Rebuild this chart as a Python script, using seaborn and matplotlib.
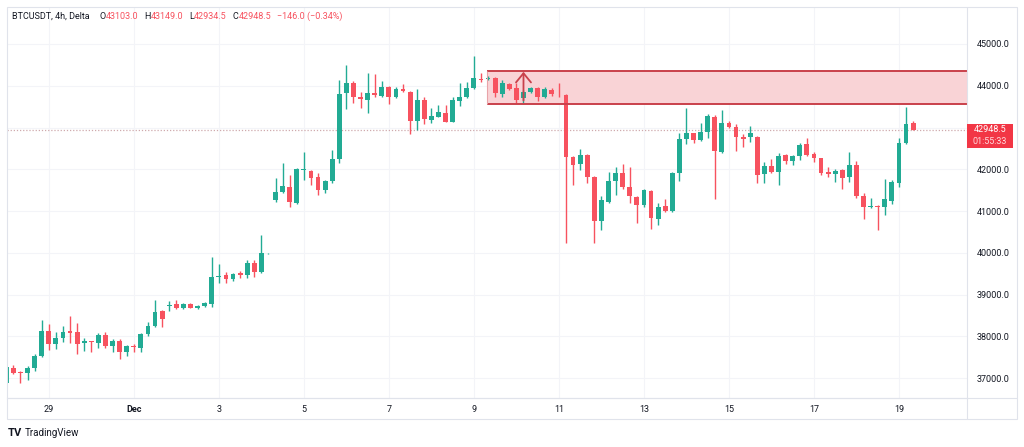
import numpy as np
import pandas as pd
import matplotlib
matplotlib.use("Agg")
import matplotlib.pyplot as plt
import seaborn as sns
from matplotlib.patches import Rectangle
from matplotlib.lines import Line2D

# 4h candles, 28 Nov 00:00 -> 19 Dec 08:00
opens = [36874, 37248, 37152, 37113, 37233, 37521, 38127, 37815, 37952, 38117,
         38096, 37832, 37880, 37846, 38031, 37778, 37887, 37616, 37767, 37727,
         38047, 38246, 38606, 38726, 38774, 38670, 38766, 38670, 38734, 38774,
         39427, 39459, 39372, 39508, 39467, 39762, 39547, 39987, 41264, 41448,
         41583, 41200, 41983, 41959, 41807, 41504, 41719, 42239, 43819, 44073,
         43738, 43659, 43834, 43755, 43978, 43738, 43915, 43858, 43156, 43659,
         43180, 43259, 43355, 43140, 43642, 43724, 43939, 44169, 44162, 44194,
         43803, 44035, 43939, 43700, 43858, 43939, 43738, 43898, 43780, 43780,
         42301, 42126, 42342, 41807, 40768, 41224, 41726, 41918, 41583, 41343,
         41144, 41487, 40802, 41120, 41008, 41918, 42718, 42861, 42701, 42900,
         43245, 42421, 43116, 43005, 42780, 42780, 42780, 41887, 42078, 41927,
         42342, 42198, 42318, 42605, 42358, 42262, 41942, 41879, 41983, 41823,
         42102, 41360, 41088, 41120, 41088, 41248, 41679, 42637, 43103]
highs = [37288, 37312, 37176, 37288, 37576, 38390, 38287, 38096, 38246, 38493,
         38311, 37952, 37887, 38071, 38096, 37928, 37928, 37791, 37815, 38071,
         38349, 38869, 38630, 38853, 38869, 38790, 38806, 38758, 38822, 39906,
         39731, 39547, 39523, 39555, 39827, 39827, 40426, 39995, 41784, 42143,
         41863, 42023, 42413, 41983, 41903, 41743, 42461, 44138, 44497, 44121,
         43843, 44298, 44274, 44121, 43990, 43963, 44042, 43870, 43915, 43724,
         43460, 43539, 43539, 43724, 44059, 44097, 44713, 44298, 44240, 44202,
         44138, 44066, 44059, 43900, 43977, 43977, 43963, 43939, 44059, 43800,
         42310, 42478, 42366, 41839, 41360, 41942, 42047, 42126, 42062, 41360,
         41520, 41504, 41185, 41280, 41942, 42861, 43460, 42877, 43100, 43324,
         43300, 43420, 43164, 43084, 42845, 43036, 42796, 42182, 42239, 42382,
         42358, 42342, 42622, 42741, 42421, 42270, 42047, 41998, 41998, 42421,
         42206, 41440, 41304, 41144, 41760, 41743, 42741, 43484, 43149]
lows = [36857, 37097, 36888, 36953, 37176, 37497, 37671, 37688, 37870, 37832,
        37576, 37655, 37631, 37712, 37712, 37631, 37449, 37527, 37631, 37631,
        38007, 38230, 38230, 38613, 38646, 38646, 38670, 38646, 38710, 38710,
        39284, 39284, 39332, 39403, 39388, 39427, 39523, 39980, 41224, 41424,
        41104, 41168, 41743, 41623, 41384, 41440, 41679, 42143, 43436, 43594,
        43460, 43355, 43738, 43724, 43563, 43700, 43858, 42837, 42940, 43084,
        43116, 43245, 43124, 43124, 43515, 43700, 43915, 44097, 44145, 43724,
        43738, 43898, 43580, 43580, 43834, 43642, 43700, 43755, 43738, 40227,
        41623, 41983, 41679, 40242, 40545, 41200, 41384, 41520, 41185, 40706,
        41104, 40562, 40665, 40984, 40984, 41726, 42605, 42622, 42685, 42741,
        41280, 42397, 42980, 42445, 42540, 42660, 41663, 41679, 41903, 41623,
        42126, 42102, 42222, 42326, 42182, 41863, 41823, 41703, 41520, 41703,
        41304, 40802, 41064, 40545, 40904, 41168, 41583, 42597, 42934.5]
closes = [37257, 37128, 37128, 37248, 37521, 38127, 37815, 37952, 38096, 38084,
          37815, 37880, 37856, 38031, 37778, 37887, 37616, 37767, 37736, 38047,
          38246, 38582, 38407, 38747, 38670, 38774, 38686, 38734, 38798, 39427,
          39435, 39372, 39483, 39475, 39762, 39531, 39987, 39990, 41448, 41599,
          41224, 41999, 41991, 41798, 41504, 41719, 42246, 43796, 44059, 43724,
          43676, 43819, 43771, 43978, 43724, 43915, 43875, 43156, 43659, 43197,
          43276, 43364, 43140, 43659, 43738, 43939, 44178, 44145, 44186, 43819,
          44059, 43922, 43659, 43858, 43939, 43724, 43915, 43795, 43772, 42301,
          42102, 42342, 41807, 40768, 41264, 41726, 41903, 41583, 41360, 41144,
          41504, 40826, 41104, 41008, 41918, 42718, 42861, 42701, 42900, 43276,
          42445, 43100, 43005, 42780, 42718, 42861, 41863, 42078, 41927, 42318,
          42198, 42318, 42581, 42342, 42262, 41918, 41879, 41958, 41798, 42102,
          41360, 41088, 41120, 41104, 41280, 41703, 42637, 43084, 42948.5]

date_ticks = [6, 18, 30, 42, 54, 66, 78, 90, 102, 114, 126]
date_labels = ["29", "Dec", "3", "5", "7", "9", "11", "13", "15", "17", "19"]
price_ticks = [37000, 38000, 39000, 40000, 41000, 42000, 43000, 44000, 45000]

zone_start = 67.9
zone_low, zone_high = 43556, 44361
arrow_x, arrow_from, arrow_to = 73, 43580, 44400
last_price = 42948.5
countdown = "01:55:33"

UP = "#22ab94"
DOWN = "#f7525f"
GRID = "#f3f4f8"
FRAME = "#e0e3eb"
TXT = "#131722"

df = pd.DataFrame({"open": opens, "high": highs, "low": lows, "close": closes})
df["idx"] = np.arange(len(df))
df["color"] = np.where(df["close"] >= df["open"], UP, DOWN)
df["bottom"] = df[["open", "close"]].min(axis=1)
df["body"] = np.maximum((df["close"] - df["open"]).abs(), 14)

sns.set_theme(style="white")
plt.rcParams["font.family"] = ["Roboto", "DejaVu Sans"]

W, H = 1024, 447
fig = plt.figure(figsize=(W / 100, H / 100), dpi=100)
ax = fig.add_axes([7 / W, 1 - 398 / H, 960 / W, 391 / H])

ax.vlines(df["idx"], df["low"], df["high"], colors=df["color"], linewidth=1, zorder=3)
ax.bar(df["idx"], df["body"], bottom=df["bottom"], width=0.68, color=df["color"],
       linewidth=0, zorder=4)

ax.set_xlim(0.1, 135.6)
ax.set_ylim(36522, 45886)

# resistance zone
ax.fill_between([zone_start, 140], zone_low, zone_high, color="#f9d3d6", zorder=1, linewidth=0)
ax.hlines([zone_low, zone_high], zone_start, 140, colors="#c9414b", linewidth=1.4, zorder=5)
ax.vlines(zone_start, zone_low, zone_high, colors="#e8a4a9", linewidth=0.8, zorder=5)
ax.annotate("", xy=(arrow_x, arrow_to), xytext=(arrow_x, arrow_from),
            arrowprops=dict(arrowstyle="->,head_length=0.55,head_width=0.45",
                            color="#c9414b", lw=1.3), zorder=6)

ax.axhline(last_price, color="#cfa9ac", linestyle=(0, (1, 1.5)), linewidth=0.9, zorder=2)

ax.set_xticks(date_ticks)
ax.set_xticklabels(date_labels, fontsize=6.5, color=TXT)
for lab in ax.get_xticklabels():
    if lab.get_text() == "Dec":
        lab.set_fontweight("bold")
ax.set_yticks(price_ticks)
# the 43000.0 label sits under the last-price tag
ax.set_yticklabels(["" if abs(p - last_price) < 400 else f"{p:.1f}" for p in price_ticks],
                   fontsize=6.5, color=TXT)
ax.yaxis.tick_right()
ax.tick_params(axis="both", length=0)
ax.tick_params(axis="y", pad=7)
ax.tick_params(axis="x", pad=5)
ax.grid(True, color=GRID, linewidth=0.8)
for s in ["top", "left", "right"]:
    ax.spines[s].set_visible(False)
ax.spines["bottom"].set_color(FRAME)
ax.spines["bottom"].set_linewidth(0.8)


def px(x, y):
    return x / W, 1 - y / H


# outer frame and panel separators
fig.patches.append(Rectangle(px(7, 419), 1010 / W, 412 / H, transform=fig.transFigure,
                             fill=False, edgecolor=FRAME, linewidth=0.8))
fig.lines.append(Line2D([967 / W, 967 / W], [1 - 7 / H, 1 - 419 / H],
                        transform=fig.transFigure, color=FRAME, linewidth=0.8))
fig.lines.append(Line2D([7 / W, 1017 / W], [1 - 398 / H, 1 - 398 / H],
                        transform=fig.transFigure, color=FRAME, linewidth=0.8))

# last price label
fig.patches.append(Rectangle(px(967, 148), 46 / W, 24 / H, transform=fig.transFigure,
                             facecolor="#f23645", edgecolor="none", zorder=10))
fig.text(990 / W, 1 - 130 / H, f"{last_price:.1f}", color="white", fontsize=6.5,
         ha="center", va="center", zorder=11)
fig.text(990 / W, 1 - 142 / H, countdown, color="#ffd9dc", fontsize=6.5,
         ha="center", va="center", zorder=11)

# header legend
fig.canvas.draw()
renderer = fig.canvas.get_renderer()
parts = [("BTCUSDT, 4h, Delta", TXT, 10), ("O", TXT, 0), ("43103.0", DOWN, 6),
         ("H", TXT, 0), ("43149.0", DOWN, 6), ("L", TXT, 0), ("42934.5", DOWN, 6),
         ("C", TXT, 0), ("42948.5", DOWN, 6), ("\u2212146.0 (\u22120.34%)", DOWN, 0)]
x = 12
for s, c, gap in parts:
    t = fig.text(x / W, 1 - 16.5 / H, s, color=c, fontsize=6.5, va="center")
    bb = t.get_window_extent(renderer)
    x = bb.x1 + gap

# footer logo
fig.text(8 / W, 1 - 433 / H, "TV", fontsize=8, fontweight="bold", color=TXT, va="center")
fig.text(25 / W, 1 - 433 / H, "TradingView", fontsize=7, color=TXT, va="center")

fig.savefig("out.png", dpi=100)
